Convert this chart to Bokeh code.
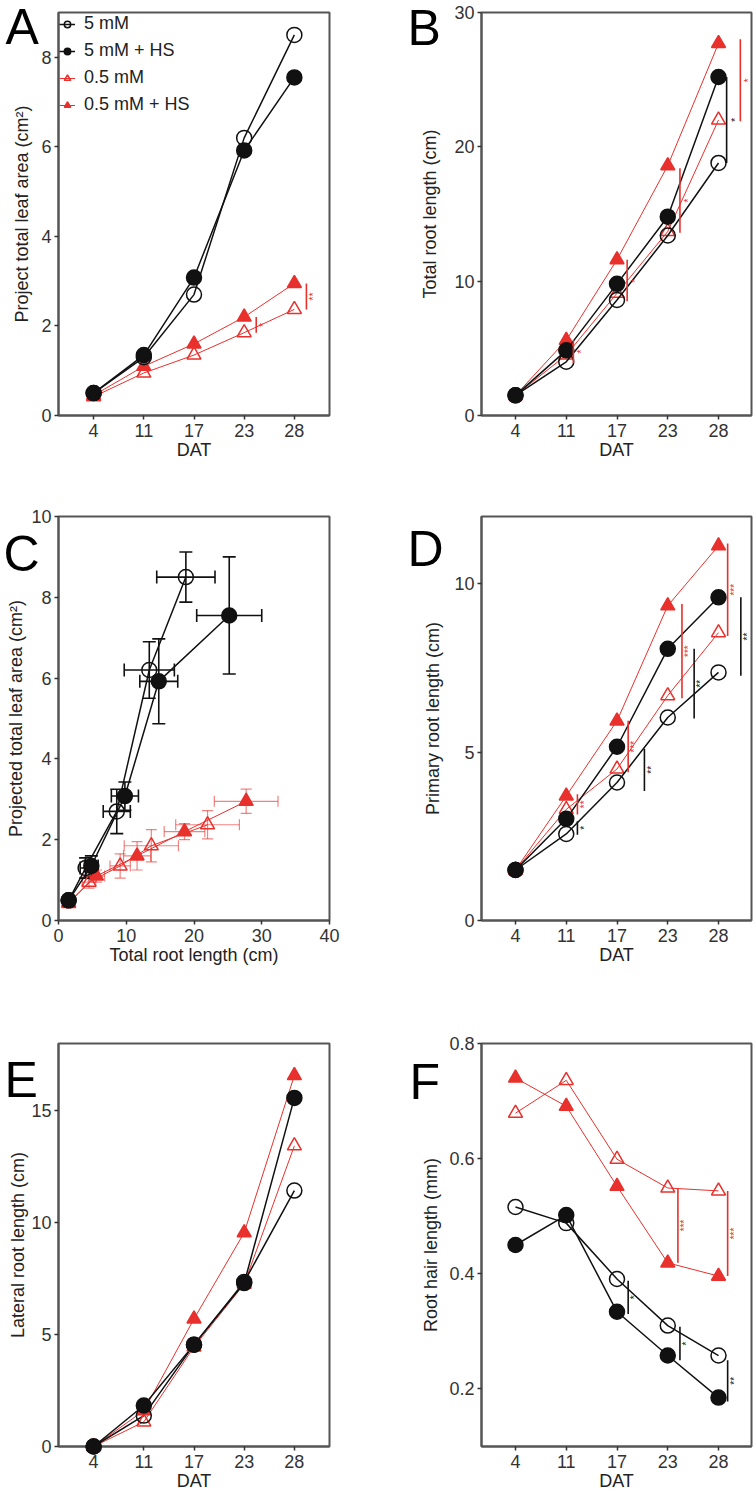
import math
from bokeh.plotting import figure
from bokeh.models import (FixedTicker, Whisker, TeeHead, ColumnDataSource,
                          Legend, LegendItem)
from bokeh.layouts import column, row
from bokeh.embed import file_html
from bokeh.resources import INLINE
from bokeh.core.properties import value

FONT = "Liberation Sans"
BLACK = "#111111"
RED = "#e8302c"
AXIS = "#555555"
FS = "18px"

# ---------------- data ----------------
DAT = ["4", "11", "17", "23", "28"]
SERIES = ["5 mM", "5 mM + HS", "0.5 mM", "0.5 mM + HS"]

# A: projected total leaf area (cm2)
leaf_5 = [0.50, 1.30, 2.70, 6.20, 8.50]
leaf_5hs = [0.50, 1.35, 3.08, 5.92, 7.55]
leaf_05 = [0.42, 0.95, 1.35, 1.85, 2.37]
leaf_05hs = [0.45, 1.10, 1.60, 2.20, 2.95]

# B: total root length (cm)
troot_5 = [1.5, 4.0, 8.6, 13.4, 18.8]
troot_5hs = [1.5, 4.85, 9.8, 14.8, 25.2]
troot_05 = [1.5, 4.5, 9.1, 13.7, 22.0]
troot_05hs = [1.5, 5.6, 11.6, 18.6, 27.7]

# C: error bars (x = total root length, y = leaf area)
xerr_5 = [0.3, 0.8, 2.0, 3.7, 4.3]
xerr_5hs = [0.3, 1.0, 2.0, 2.8, 4.8]
xerr_05 = [0.3, 1.0, 1.5, 4.0, 4.7]
xerr_05hs = [0.3, 1.2, 2.0, 3.0, 4.7]
yerr_5 = [0.05, 0.25, 0.55, 0.70, 0.62]
yerr_5hs = [0.05, 0.25, 0.35, 1.05, 1.45]
yerr_05 = [0.05, 0.15, 0.30, 0.40, 0.35]
yerr_05hs = [0.05, 0.15, 0.35, 0.20, 0.30]

# D: primary root length (cm)
prim_5 = [1.5, 2.57, 4.10, 6.03, 7.37]
prim_5hs = [1.5, 3.02, 5.16, 8.07, 9.60]
prim_05 = [1.5, 3.30, 4.50, 6.68, 8.55]
prim_05hs = [1.5, 3.70, 5.93, 9.35, 11.13]

# E: lateral root length (cm)
lat_5 = [0.0, 1.38, 4.55, 7.35, 11.43]
lat_5hs = [0.0, 1.83, 4.55, 7.30, 15.57]
lat_05 = [0.0, 1.10, 4.45, 7.25, 13.43]
lat_05hs = [0.0, 1.60, 5.70, 9.55, 16.57]

# F: root hair length (mm)
hair_5 = [0.516, 0.488, 0.391, 0.310, 0.258]
hair_5hs = [0.450, 0.502, 0.334, 0.258, 0.185]
hair_05 = [0.679, 0.736, 0.599, 0.549, 0.544]
hair_05hs = [0.740, 0.691, 0.552, 0.419, 0.396]

# significance bars: x position (DAT index + offset), low, high, label, colour
sigA_x = [3.24, 4.24]
sigA_lo = [1.85, 2.37]
sigA_hi = [2.20, 2.95]
sigA_lab = ["*", "**"]
sigA_col = [RED, RED]

sigB_x = [1.14, 2.20, 3.24, 4.43, 4.16]
sigB_lo = [3.9, 8.5, 13.6, 21.9, 18.8]
sigB_hi = [5.6, 11.6, 18.4, 28.0, 25.2]
sigB_lab = ["*", "*", "*", "*", "*"]
sigB_col = [RED, RED, RED, RED, BLACK]

sigD_x = [1.22, 1.22, 2.22, 2.54, 3.28, 3.52, 4.18, 4.44]
sigD_lo = [3.15, 2.55, 4.40, 3.85, 6.60, 6.00, 8.45, 7.27]
sigD_hi = [3.75, 2.95, 5.93, 5.10, 9.40, 8.07, 11.20, 9.60]
sigD_lab = ["**", "*", "***", "**", "***", "**", "***", "**"]
sigD_col = [RED, BLACK, RED, BLACK, RED, BLACK, RED, BLACK]

sigF_x = [3.20, 4.18, 2.22, 3.24, 4.18]
sigF_lo = [0.419, 0.396, 0.330, 0.250, 0.178]
sigF_hi = [0.549, 0.544, 0.388, 0.308, 0.250]
sigF_lab = ["***", "***", "*", "*", "**"]
sigF_col = [RED, RED, BLACK, BLACK, BLACK]

PANEL_LETTERS = ["A", "B", "C", "D", "E", "F"]

X = list(range(len(DAT)))

STYLE = {
    "5 mM": (BLACK, "circle", False),
    "5 mM + HS": (BLACK, "circle", True),
    "0.5 mM": (RED, "triangle", False),
    "0.5 mM + HS": (RED, "triangle", True),
}
DRAW_ORDER = ["0.5 mM", "0.5 mM + HS", "5 mM", "5 mM + HS"]


def make_fig(width, height, bl, br, bt, bb, xr, yr):
    p = figure(width=width, height=height, x_range=xr, y_range=yr,
               output_backend="svg", toolbar_location=None, tools="",
               min_border_left=bl, min_border_right=br,
               min_border_top=bt, min_border_bottom=bb)
    p.xgrid.grid_line_color = None
    p.ygrid.grid_line_color = None
    p.outline_line_color = AXIS
    p.outline_line_width = 2
    p.background_fill_color = "white"
    p.border_fill_color = "white"
    return p


def style_axes(p, xticks, yticks, xlabel, ylabel, ystand, xoverride=True):
    for ax in (p.xaxis[0], p.yaxis[0]):
        ax.axis_line_color = AXIS
        ax.axis_line_width = 2
        ax.major_tick_line_color = "#333333"
        ax.major_tick_line_width = 1.5
        ax.major_tick_out = 4
        ax.major_tick_in = 0
        ax.minor_tick_line_color = None
        ax.major_label_text_font = FONT
        ax.major_label_text_font_size = FS
        ax.major_label_text_color = "#333333"
        ax.axis_label_text_font = FONT
        ax.axis_label_text_font_size = FS
        ax.axis_label_text_font_style = "normal"
        ax.axis_label_text_color = "#222222"
        ax.major_label_standoff = 4
    p.xaxis.ticker = FixedTicker(ticks=xticks)
    p.yaxis.ticker = FixedTicker(ticks=yticks)
    if xoverride:
        p.xaxis.major_label_overrides = {i: d for i, d in enumerate(DAT)}
    p.xaxis.axis_label = xlabel
    p.yaxis.axis_label = ylabel
    p.xaxis.axis_label_standoff = 0
    p.yaxis.axis_label_standoff = ystand
    p.yaxis.major_label_standoff = 3


def draw_series(p, xs, ys, name, level="glyph"):
    color, marker, filled = STYLE[name]
    red = color == RED
    l = p.line(xs, ys, line_color=color, line_width=1.0 if red else 1.5)
    s = p.scatter(xs, ys, marker=marker, size=14 if red else 15,
                  line_color=color, line_width=1.5,
                  fill_color=color if filled else None, level=level)
    return l, s


def draw_panel(p, data, level="glyph"):
    rends = {}
    for name in DRAW_ORDER:
        xs, ys = data[name]
        rends[name] = draw_series(p, xs, ys, name, level)
    return rends


def draw_sig(p, xs, lo, hi, labs, cols, dx=0.14, size="11px"):
    src = ColumnDataSource(dict(x=xs, lo=lo, hi=hi, col=cols,
                                tx=[x + dx for x in xs],
                                ty=[(a + b) / 2 for a, b in zip(lo, hi)],
                                lab=labs))
    p.segment(x0="x", y0="lo", x1="x", y1="hi", line_color="col",
              line_width=1.6, source=src)
    p.text(x="tx", y="ty", text="lab", text_color="col", angle=math.pi / 2,
           text_font=value(FONT), text_font_size=size, text_align="center",
           text_baseline="middle", source=src, level="overlay")


def letter(p, txt, dx, dy):
    # panel letter, anchored at the frame's top-left corner, offset in pixels
    p.text(x=[p.x_range.start], y=[p.y_range.end], text=[txt],
           x_offset=dx, y_offset=dy, text_font=value(FONT),
           text_font_size="50px", text_color="black",
           text_align="left", text_baseline="middle", level="overlay")


LW, RW = 370, 384
H1, H2, H3 = 478, 500, 518
XR_L = (-0.7, 4.7)
XR_R = (-0.67, 4.65)

# ---------------- A ----------------
pA = make_fig(LW, H1, 58, 41, 12, 63, XR_L, (0, 9))
style_axes(pA, X, [0, 2, 4, 6, 8], "DAT", "Project total leaf area (cm²)", 6)
rA = draw_panel(pA, {"5 mM": (X, leaf_5), "5 mM + HS": (X, leaf_5hs),
                     "0.5 mM": (X, leaf_05), "0.5 mM + HS": (X, leaf_05hs)})
draw_sig(pA, sigA_x, sigA_lo, sigA_hi, sigA_lab, sigA_col)
legend = Legend(items=[LegendItem(label=n, renderers=list(rA[n])) for n in SERIES],
                location="top_left", border_line_color=None,
                background_fill_alpha=0, margin=1, padding=3, spacing=6,
                glyph_width=16, glyph_height=20, label_height=20,
                label_standoff=9, label_text_font=FONT,
                label_text_font_size=FS, label_text_color="#222222")
pA.add_layout(legend)
letter(pA, PANEL_LETTERS[0], -53, 14)

# ---------------- B ----------------
pB = make_fig(RW, H1, 111, 3, 12, 63, XR_R, (0, 30))
style_axes(pB, X, [0, 10, 20, 30], "DAT", "Total root length (cm)", 11)
draw_panel(pB, {"5 mM": (X, troot_5), "5 mM + HS": (X, troot_5hs),
                "0.5 mM": (X, troot_05), "0.5 mM + HS": (X, troot_05hs)})
draw_sig(pB, sigB_x, sigB_lo, sigB_hi, sigB_lab, sigB_col, dx=0.16)
letter(pB, PANEL_LETTERS[1], -74, 15)

# ---------------- C ----------------
pC = make_fig(LW, H2, 58, 41, 38, 58, (0, 40), (0, 10))
style_axes(pC, [0, 10, 20, 30, 40], [0, 2, 4, 6, 8, 10],
           "Total root length (cm)", "Projected total leaf area (cm²)", 2,
           xoverride=False)
C_SETS = {
    "0.5 mM": (troot_05, leaf_05, xerr_05, yerr_05),
    "0.5 mM + HS": (troot_05hs, leaf_05hs, xerr_05hs, yerr_05hs),
    "5 mM": (troot_5, leaf_5, xerr_5, yerr_5),
    "5 mM + HS": (troot_5hs, leaf_5hs, xerr_5hs, yerr_5hs),
}
for name in DRAW_ORDER:
    xs, ys, xe, ye = C_SETS[name]
    color = STYLE[name][0]
    red = color == RED
    alpha = 0.6 if red else 1.0
    lw = 1.2 if red else 1.6
    hs = 11 if red else 13
    src = ColumnDataSource(dict(x=xs, y=ys,
                                xl=[a - e for a, e in zip(xs, xe)],
                                xh=[a + e for a, e in zip(xs, xe)],
                                yl=[a - e for a, e in zip(ys, ye)],
                                yh=[a + e for a, e in zip(ys, ye)]))
    for dim, base, lo, hi in (("width", "y", "xl", "xh"), ("height", "x", "yl", "yh")):
        w = Whisker(source=src, base=base, lower=lo, upper=hi, dimension=dim,
                    line_color=color, line_width=lw, line_alpha=alpha,
                    upper_head=TeeHead(size=hs, line_color=color, line_width=lw, line_alpha=alpha),
                    lower_head=TeeHead(size=hs, line_color=color, line_width=lw, line_alpha=alpha),
                    level="underlay")
        pC.add_layout(w)
    draw_series(pC, xs, ys, name)
letter(pC, PANEL_LETTERS[2], -55, 37)

# ---------------- D ----------------
pD = make_fig(RW, H2, 111, 3, 38, 58, XR_R, (0, 12))
style_axes(pD, X, [0, 5, 10], "DAT", "Primary root length (cm)", 8)
draw_panel(pD, {"5 mM": (X, prim_5), "5 mM + HS": (X, prim_5hs),
                "0.5 mM": (X, prim_05), "0.5 mM + HS": (X, prim_05hs)})
draw_sig(pD, sigD_x, sigD_lo, sigD_hi, sigD_lab, sigD_col, dx=0.13, size="10px")
letter(pD, PANEL_LETTERS[3], -74, 32)

# ---------------- E ----------------
pE = make_fig(LW, H3, 58, 41, 65, 50, XR_L, (0, 18))
style_axes(pE, X, [0, 5, 10, 15], "DAT", "Lateral root length (cm)", 0)
draw_panel(pE, {"5 mM": (X, lat_5), "5 mM + HS": (X, lat_5hs),
                "0.5 mM": (X, lat_05), "0.5 mM + HS": (X, lat_05hs)},
           level="overlay")
letter(pE, PANEL_LETTERS[4], -54, 36)

# ---------------- F ----------------
pF = make_fig(RW, H3, 111, 3, 65, 50, XR_R, (0.1, 0.8))
style_axes(pF, X, [0.2, 0.4, 0.6, 0.8], "DAT", "Root hair length (mm)", 5)
draw_panel(pF, {"5 mM": (X, hair_5), "5 mM + HS": (X, hair_5hs),
                "0.5 mM": (X, hair_05), "0.5 mM + HS": (X, hair_05hs)})
draw_sig(pF, sigF_x, sigF_lo, sigF_hi, sigF_lab, sigF_col, dx=0.13, size="10px")
letter(pF, PANEL_LETTERS[5], -72, 38)

layout = column(row(pA, pB), row(pC, pD), row(pE, pF))
open("out.html", "w").write(file_html(layout, INLINE))
